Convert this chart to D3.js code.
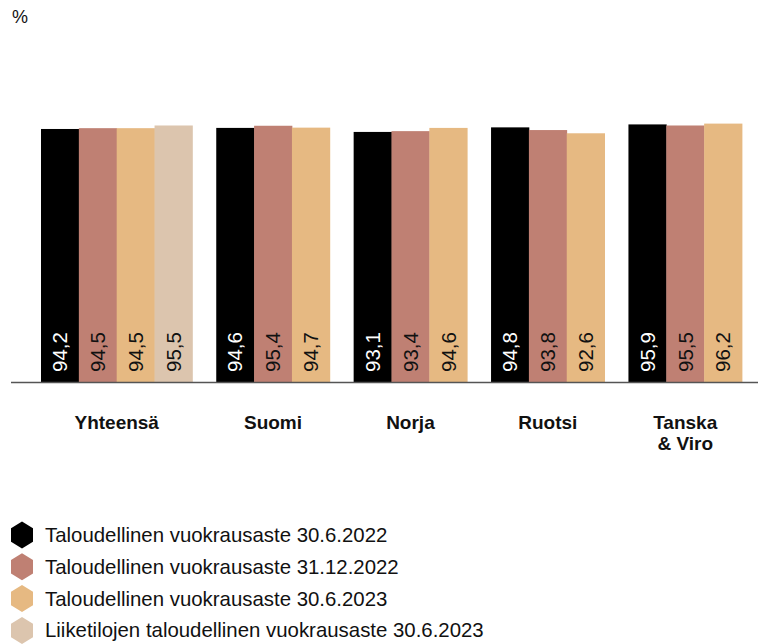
<!DOCTYPE html>
<html>
<head>
<meta charset="utf-8">
<script src="https://cdn.jsdelivr.net/npm/d3@7"></script>
<style>
  html, body { margin: 0; padding: 0; background: #fff; }
  svg { display: block; font-family: "Liberation Sans", Arial, sans-serif; }
</style>
</head>
<body>
<svg id="chart" width="758" height="644"></svg>
<script>
// Economic occupancy rates (%) by region
const categories = ["Yhteensä", "Suomi", "Norja", "Ruotsi", "Tanska\n& Viro"];
const seriesNames = [
  "Taloudellinen vuokrausaste 30.6.2022",
  "Taloudellinen vuokrausaste 31.12.2022",
  "Taloudellinen vuokrausaste 30.6.2023",
  "Liiketilojen taloudellinen vuokrausaste 30.6.2023"
];
const values2022H1 = [94.2, 94.6, 93.1, 94.8, 95.9];
const values2022H2 = [94.5, 95.4, 93.4, 93.8, 95.5];
const values2023H1 = [94.5, 94.7, 94.6, 92.6, 96.2];
const valuesCommercial = [95.5, null, null, null, null];
const seriesColors = ["#000000", "#bf8073", "#e6b982", "#dcc5ae"];
const labelColors = ["#ffffff", "#111111", "#111111", "#111111"];

const series = [values2022H1, values2022H2, values2023H1, valuesCommercial];

const svg = d3.select("#chart");
const baseY = 382;
const y = d3.scaleLinear().domain([0, 100]).range([baseY, 113.4]);

// Bars per group (groups without commercial data have three bars)
const groupGap = 0.63;
const groups = categories.map((c, i) => ({
  name: c,
  bars: series.map((s, k) => ({ k, v: s[i] })).filter(d => d.v != null)
}));
let cursor = 0;
groups.forEach(g => {
  g.start = cursor;
  cursor += g.bars.length + groupGap;
});
const totalUnits = cursor - groupGap;
const x = d3.scaleLinear().domain([0, totalUnits]).range([41, 742]);
const bw = x(1) - x(0);

const fmt = v => d3.format(".1f")(v).replace(".", ",");

const g = svg.append("g");
groups.forEach(grp => {
  const gg = g.append("g");
  gg.selectAll("rect").data(grp.bars).join("rect")
    .attr("x", (d, j) => x(grp.start + j))
    .attr("width", bw + 0.4)
    .attr("y", d => y(d.v))
    .attr("height", d => baseY - y(d.v))
    .attr("fill", d => seriesColors[d.k]);

  gg.selectAll("text.val").data(grp.bars).join("text")
    .attr("class", "val")
    .attr("transform", (d, j) => `translate(${x(grp.start + j) + bw / 2 + 7.3},${baseY - 10}) rotate(-90)`)
    .attr("text-anchor", "start")
    .attr("font-size", 20.5)
    .attr("fill", d => labelColors[d.k])
    .text(d => fmt(d.v));

  const cx = (x(grp.start) + x(grp.start + grp.bars.length)) / 2;
  const lines = grp.name.split("\n");
  gg.append("text")
    .attr("x", cx)
    .attr("y", 429)
    .attr("text-anchor", "middle")
    .attr("font-size", 19)
    .attr("font-weight", 700)
    .attr("fill", "#111")
    .selectAll("tspan").data(lines).join("tspan")
    .attr("x", cx)
    .attr("dy", (d, i) => i === 0 ? 0 : 21)
    .text(d => d);
});

// Baseline
svg.append("line")
  .attr("x1", 11).attr("x2", 758)
  .attr("y1", baseY + 0.5).attr("y2", baseY + 0.5)
  .attr("stroke", "#555").attr("stroke-width", 1.5);

// Unit label
svg.append("text")
  .attr("x", 12).attr("y", 23)
  .attr("font-size", 18)
  .attr("fill", "#111")
  .text("%");

// Legend with hexagon markers
const hex = (cx, cy, w, h) => {
  const pts = [
    [cx, cy - h / 2], [cx + w / 2, cy - h / 4], [cx + w / 2, cy + h / 4],
    [cx, cy + h / 2], [cx - w / 2, cy + h / 4], [cx - w / 2, cy - h / 4]
  ];
  return "M" + pts.map(p => p.join(",")).join("L") + "Z";
};
const legend = svg.append("g");
seriesNames.forEach((name, i) => {
  const cy = 535 + i * 31.8;
  legend.append("path")
    .attr("d", hex(22, cy, 22, 27))
    .attr("fill", seriesColors[i]);
  legend.append("text")
    .attr("x", 45).attr("y", cy + 7)
    .attr("font-size", 20.4)
    .attr("fill", "#111")
    .text(name);
});
</script>
</body>
</html>
